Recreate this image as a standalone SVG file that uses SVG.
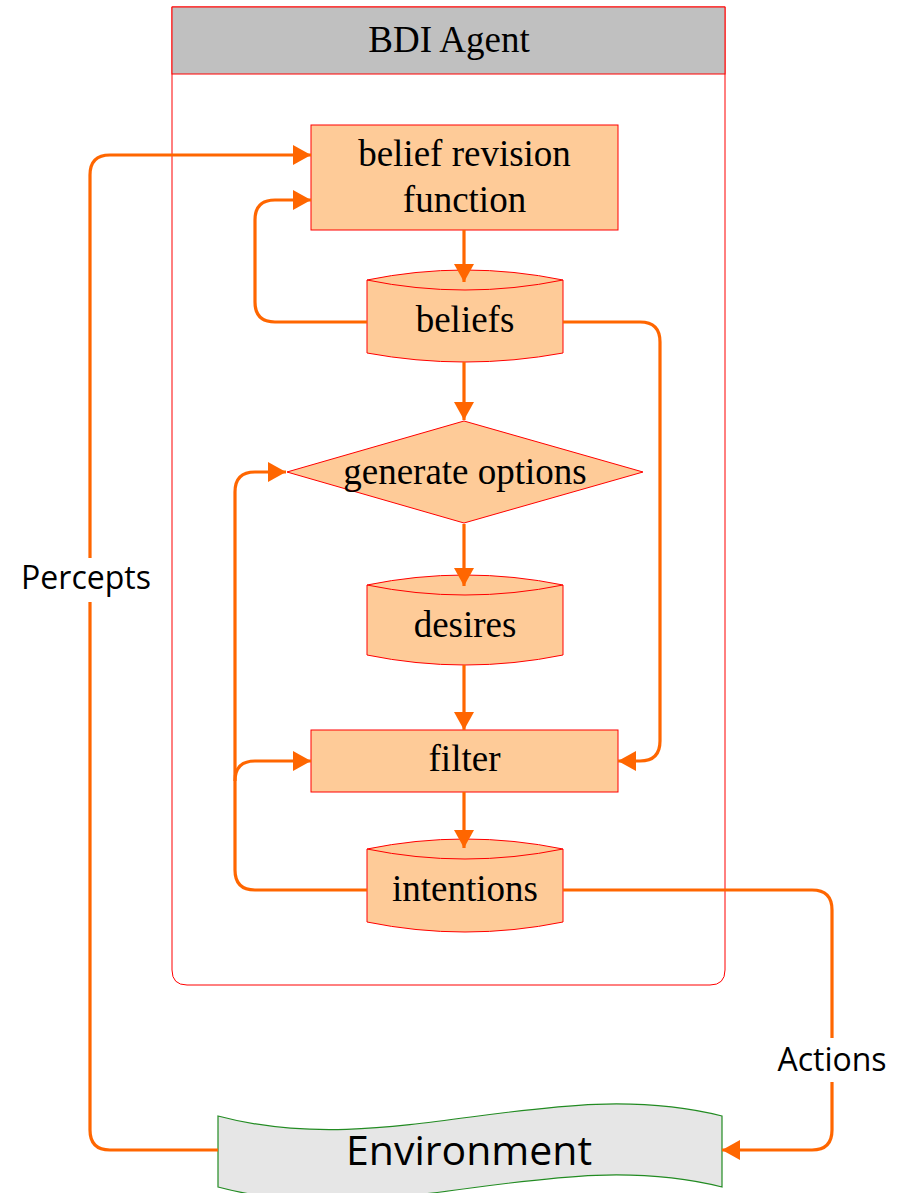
<svg xmlns="http://www.w3.org/2000/svg" width="902" height="1193" viewBox="0 0 902 1193">
  <style>
    .node { fill: #FECB98; stroke: #FF0000; stroke-width: 1; }
    .ntext { font-family: "Liberation Serif", "Times New Roman", serif; font-size: 37px; fill: #000; text-anchor: middle; }
    .stext { font-family: "Open Sans", "Noto Sans", sans-serif; fill: #000; text-anchor: middle; }
    .conn { fill: none; stroke: #FF6600; stroke-width: 3.2; }
    .arrow { marker-end: url(#arrowhead); }
  </style>
  <defs>
    <marker id="arrowhead" markerUnits="userSpaceOnUse" viewBox="0 0 18 20" refX="18" refY="10" markerWidth="18" markerHeight="20" orient="auto">
      <path d="M0,0 L18,10 L0,20 Z" fill="#FF6600"/>
    </marker>
  </defs>

  <rect width="902" height="1193" fill="#FFFFFF"/>

  <!-- agent container with title band -->
  <g id="agent">
    <path d="M172,7 H725 V970 Q725,985 710,985 H187 Q172,985 172,970 Z" fill="#FFFFFF" stroke="#FF0000" stroke-width="1"/>
    <rect x="172" y="7" width="553" height="67" fill="#C0C0C0" stroke="#FF0000" stroke-width="1"/>
    <text class="ntext" x="449" y="52">BDI Agent</text>
  </g>

  <g id="brf">
    <rect class="node" x="311" y="125" width="307" height="105"/>
    <text class="ntext" x="464.5" y="166">belief revision</text>
    <text class="ntext" x="464.5" y="212">function</text>
  </g>

  <g id="beliefs">
    <path class="node" d="M367,280 Q465,260 563,280 V353 Q465,371 367,353 Z"/>
    <path d="M367,280 Q465,300 563,280" fill="none" stroke="#FF0000" stroke-width="1"/>
    <text class="ntext" x="465" y="332">beliefs</text>
  </g>

  <g id="options">
    <path class="node" d="M464,421 L643,472 L464,523 L287,472 Z"/>
    <text class="ntext" x="465" y="484">generate options</text>
  </g>

  <g id="desires">
    <path class="node" d="M367,585 Q465,565 563,585 V655 Q465,675 367,655 Z"/>
    <path d="M367,585 Q465,605 563,585" fill="none" stroke="#FF0000" stroke-width="1"/>
    <text class="ntext" x="465" y="637">desires</text>
  </g>

  <g id="filter">
    <rect class="node" x="311" y="730" width="307" height="62"/>
    <text class="ntext" x="464.5" y="771">filter</text>
  </g>

  <g id="intentions">
    <path class="node" d="M367,849 Q465,829 563,849 V922 Q465,942 367,922 Z"/>
    <path d="M367,849 Q465,869 563,849" fill="none" stroke="#FF0000" stroke-width="1"/>
    <text class="ntext" x="465" y="901">intentions</text>
  </g>

  <g id="environment">
    <path d="M218,1116 C390,1162 550,1073 722,1116 V1187 C550,1144 390,1233 218,1187 Z" fill="#E6E6E6" stroke="#228B22" stroke-width="1.2"/>
    <text class="stext" x="469" y="1165" font-size="41">Environment</text>
  </g>

  <!-- connectors, drawn over the node outlines -->
  <g id="connectors">
    <!-- percepts: environment to belief revision -->
    <path class="conn arrow" d="M218,1150 H110 Q90,1150 90,1130 V175 Q90,155 110,155 H311"/>
    <!-- beliefs feed back into belief revision -->
    <path class="conn arrow" d="M367,322 H275 Q255,322 255,302 V220 Q255,200 275,200 H311"/>
    <path class="conn arrow" d="M464,230 V282"/>
    <path class="conn arrow" d="M464,362 V420"/>
    <!-- beliefs to filter -->
    <path class="conn arrow" d="M563,322 H640 Q660,322 660,342 V741 Q660,761 640,761 H618"/>
    <path class="conn arrow" d="M464,524 V586"/>
    <path class="conn arrow" d="M464,665 V730"/>
    <path class="conn arrow" d="M464,792 V848"/>
    <!-- intentions back to generate options and filter -->
    <path class="conn arrow" d="M367,890 H255 Q235,890 235,870 V492 Q235,472 255,472 H286"/>
    <path class="conn arrow" d="M235,781 Q235,761 255,761 H311"/>
    <!-- actions: intentions to environment -->
    <path class="conn arrow" d="M563,890 H812 Q832,890 832,910 V1130 Q832,1150 812,1150 H722"/>
    <!-- edge labels -->
    <rect x="18" y="558" width="136" height="44" fill="#FFFFFF"/>
    <text class="stext" x="86" y="589" font-size="32">Percepts</text>
    <rect x="774" y="1038" width="118" height="44" fill="#FFFFFF"/>
    <text class="stext" x="832" y="1071" font-size="32">Actions</text>
  </g>
</svg>
